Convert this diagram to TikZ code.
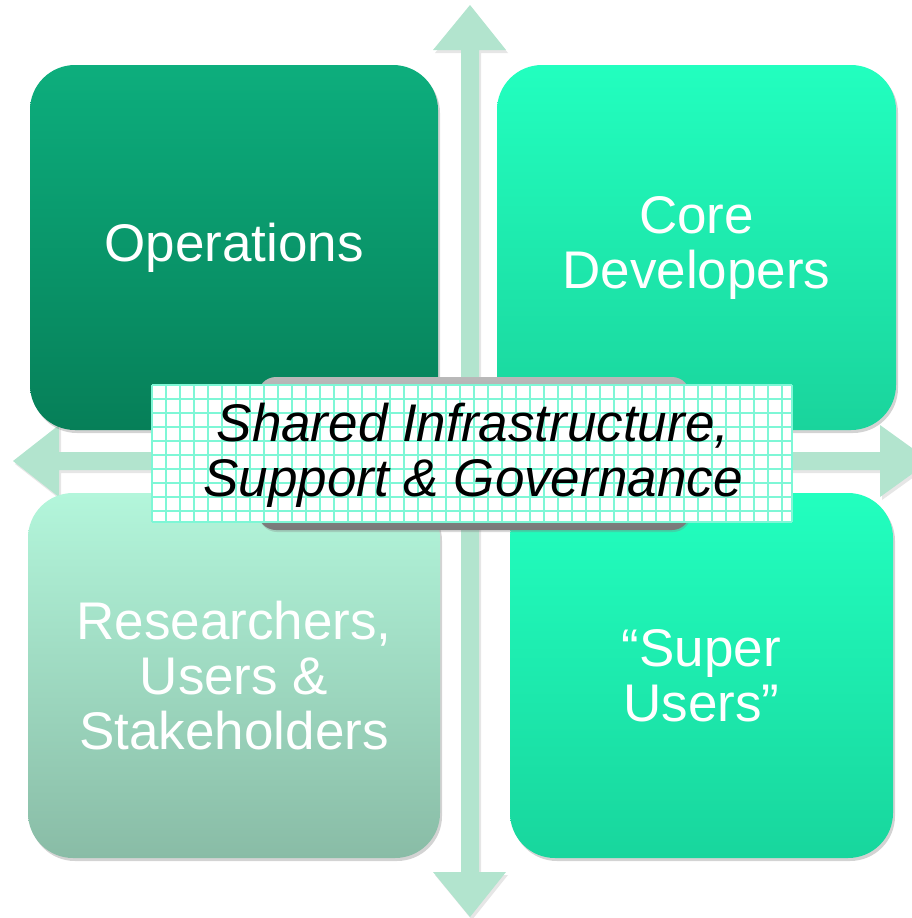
\documentclass[tikz,border=0pt]{standalone}
\usepackage{fontspec}
\setmainfont{Liberation Sans}
\usetikzlibrary{shadows}
\definecolor{opT}{HTML}{0DAE7D}
\definecolor{opB}{HTML}{067F58}
\definecolor{cdT}{HTML}{22FFBF}
\definecolor{cdB}{HTML}{1AD49C}
\definecolor{rsT}{HTML}{B3F6DB}
\definecolor{rsB}{HTML}{89BCA6}
\definecolor{suT}{HTML}{22FFBF}
\definecolor{suB}{HTML}{18D69D}
\definecolor{arrowc}{HTML}{B2E4CE}
\definecolor{gridc}{HTML}{7EF7D6}
\begin{document}
\begin{tikzpicture}[x=1pt,y=-1pt,
  quad/.style={rounded corners=45pt, inner sep=0pt, align=center, text=white,
    font=\fontsize{53pt}{55pt}\selectfont,
    drop shadow={opacity=0.35, shadow xshift=2pt, shadow yshift=-3pt}},
  bigarrow/.style={fill=arrowc, drop shadow={opacity=0.2, shadow xshift=2pt, shadow yshift=-3pt}},
  gridline/.style={draw=gridc, line width=1.6pt}]
\useasboundingbox (0,0) rectangle (912,918);
% arrows
\path[bigarrow] (470,5) -- (506,50) -- (479,50) -- (479,872) -- (506,872) -- (470,917)
  -- (433,872) -- (461,872) -- (461,50) -- (433,50) -- cycle;
\path[bigarrow] (13,461) -- (59,425) -- (59,452) -- (880,452) -- (880,425) -- (930,461)
  -- (880,497) -- (880,470) -- (59,470) -- (59,497) -- cycle;
% quadrants
\node[quad, top color=opT, bottom color=opB, minimum width=408pt, minimum height=365pt]
  (ops) at (234,247.5) {Operations};
\node[quad, top color=cdT, bottom color=cdB, minimum width=399pt, minimum height=365pt]
  (core) at (696.5,247.5) {Core\\Developers};
\node[quad, top color=rsT, bottom color=rsB, minimum width=412pt, minimum height=365pt]
  (res) at (234,675.5) {Researchers,\\Users \&\\Stakeholders};
\node[quad, top color=suT, bottom color=suB, minimum width=383pt, minimum height=365pt]
  (super) at (701.5,675.5) {“Super\\Users”};
% central
\node[rounded corners=18pt, top color=gray!55, bottom color=gray!95!black, minimum width=432pt,
  minimum height=153pt, inner sep=0pt, drop shadow={opacity=0.3, shadow xshift=1pt, shadow yshift=-2pt}]
  (grey) at (474,453.5) {};
\node[fill=white, minimum width=640pt, minimum height=137pt, inner sep=0pt] (gridbox) at (472,453.5) {};
\foreach \x in {0,14,...,630} \draw[gridline] (152+\x,385) -- (152+\x,522);
\draw[gridline] (792,385) -- (792,522);
\foreach \y in {0,14,...,126} \draw[gridline] (152,385+\y) -- (792,385+\y);
\draw[gridline] (152,522) -- (792,522);
\node[align=center, font=\fontsize{53pt}{55pt}\selectfont\itshape, text=black, inner sep=0pt]
  (shared) at (473,455) {Shared Infrastructure,\\Support \& Governance};
\end{tikzpicture}
\end{document}
